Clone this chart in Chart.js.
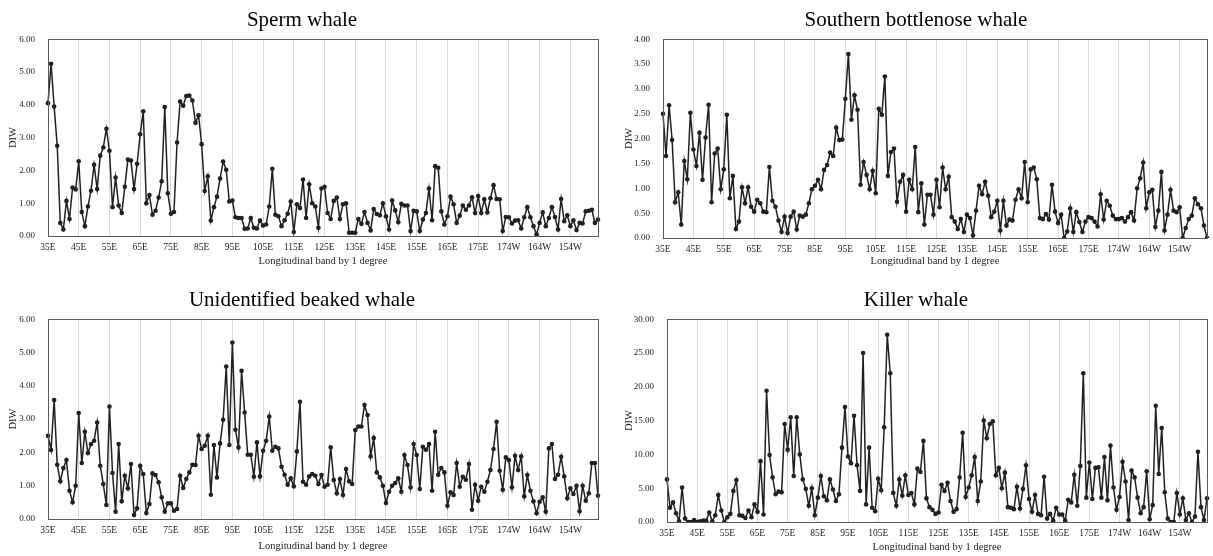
<!DOCTYPE html>
<html>
<head>
<meta charset="utf-8">
<script src="https://cdn.jsdelivr.net/npm/chart.js@4"></script>
<style>
  html, body { margin: 0; padding: 0; background: #fff; }
  body { width: 1213px; height: 556px; position: relative; overflow: hidden; }
  canvas { position: absolute; }
</style>
</head>
<body>
<canvas id="spermChart"></canvas>
<canvas id="bottlenoseChart"></canvas>
<canvas id="beakedChart"></canvas>
<canvas id="killerChart"></canvas>
<script>
// Longitudinal bands of 1 degree, starting at 35E (180 bands)
const tickLabels = ['35E', '45E', '55E', '65E', '75E', '85E', '95E', '105E', '115E', '125E',
  '135E', '145E', '155E', '165E', '175E', '174W', '164W', '154W'];

const spermWhale = [
  4.05, 5.25, 3.95, 2.75, 0.40, 0.20, 1.07, 0.52, 1.48, 1.42,
  2.28, 0.73, 0.30, 0.90, 1.38, 2.17, 1.43, 2.45, 2.70, 3.27,
  2.60, 0.88, 1.78, 0.93, 0.70, 1.50, 2.33, 2.30, 1.43, 2.20,
  3.10, 3.80, 1.00, 1.25, 0.65, 0.77, 1.17, 1.67, 3.93, 1.30,
  0.68, 0.73, 2.85, 4.10, 3.97, 4.27, 4.28, 4.13, 3.45, 3.68,
  2.80, 1.37, 1.82, 0.47, 0.88, 1.20, 1.75, 2.27, 2.02, 1.05,
  1.08, 0.57, 0.55, 0.55, 0.22, 0.23, 0.55, 0.25, 0.23, 0.47,
  0.32, 0.35, 0.90, 2.05, 0.65, 0.60, 0.30, 0.48, 0.68, 1.05,
  0.12, 0.97, 0.85, 1.72, 0.55, 1.58, 1.00, 0.90, 0.25, 1.45,
  1.50, 0.70, 0.52, 1.07, 1.17, 0.52, 0.97, 1.00, 0.10, 0.10,
  0.10, 0.52, 0.37, 0.73, 0.40, 0.17, 0.82, 0.67, 0.63, 1.00,
  0.60, 0.20, 1.08, 0.78, 0.42, 0.98, 0.93, 0.93, 0.15, 0.77,
  0.75, 0.15, 0.50, 0.70, 1.45, 0.48, 2.13, 2.08, 0.75, 0.35,
  0.60, 1.20, 0.97, 0.40, 0.62, 0.93, 0.80, 0.93, 1.18, 0.70,
  1.22, 0.70, 1.12, 0.72, 1.15, 1.55, 1.13, 1.12, 0.15, 0.58,
  0.57, 0.38, 0.47, 0.48, 0.23, 0.57, 0.88, 0.57, 0.30, 0.05,
  0.40, 0.72, 0.30, 0.55, 0.88, 0.58, 0.20, 1.13, 0.45, 0.63,
  0.30, 0.48, 0.18, 0.40, 0.38, 0.75, 0.77, 0.80, 0.40, 0.50
];

const bottlenoseWhale = [
  2.50, 1.65, 2.67, 1.97, 0.72, 0.92, 0.27, 1.55, 1.18, 2.52,
  1.78, 1.45, 2.12, 1.17, 2.02, 2.68, 0.72, 1.70, 1.80, 0.98,
  1.38, 2.48, 0.80, 1.25, 0.18, 0.33, 1.02, 0.70, 1.02, 0.63,
  0.53, 0.77, 0.70, 0.53, 0.52, 1.43, 0.75, 0.63, 0.35, 0.12,
  0.43, 0.10, 0.43, 0.53, 0.17, 0.45, 0.43, 0.47, 0.70, 0.98,
  1.05, 1.17, 0.98, 1.37, 1.47, 1.72, 1.65, 2.22, 1.97, 1.98,
  2.80, 3.70, 2.38, 2.87, 2.58, 1.07, 1.53, 1.27, 0.98, 1.35,
  0.90, 2.60, 2.48, 3.25, 1.25, 1.73, 1.80, 0.73, 1.13, 1.27,
  0.53, 1.17, 0.98, 1.83, 0.52, 1.10, 0.27, 0.87, 0.87, 0.47,
  1.17, 0.62, 1.42, 0.98, 1.23, 0.42, 0.33, 0.18, 0.38, 0.12,
  0.47, 0.40, 0.05, 0.55, 1.05, 0.88, 1.13, 0.85, 0.42, 0.53,
  0.75, 0.15, 0.75, 0.25, 0.37, 0.35, 0.77, 0.98, 0.80, 1.53,
  0.72, 1.38, 1.42, 1.18, 0.40, 0.38, 0.48, 0.37, 1.07, 0.53,
  0.30, 0.47, 0.00, 0.13, 0.60, 0.12, 0.52, 0.32, 0.12, 0.33,
  0.42, 0.40, 0.33, 0.23, 0.88, 0.37, 0.75, 0.65, 0.45, 0.38,
  0.38, 0.40, 0.33, 0.42, 0.52, 0.35, 1.00, 1.20, 1.52, 0.60,
  0.92, 0.97, 0.22, 0.55, 1.33, 0.15, 0.47, 0.97, 0.55, 0.52,
  0.62, 0.00, 0.20, 0.38, 0.45, 0.80, 0.68, 0.60, 0.25, 0.00
];

const beakedWhale = [
  2.50, 2.07, 3.57, 1.63, 1.13, 1.53, 1.77, 0.85, 0.50, 1.00,
  3.18, 1.68, 2.62, 1.98, 2.25, 2.35, 2.90, 1.60, 1.05, 0.42,
  3.38, 1.38, 0.22, 2.25, 0.53, 1.30, 0.92, 1.65, 0.12, 0.32,
  1.60, 1.35, 0.18, 0.45, 1.37, 1.32, 1.10, 0.65, 0.22, 0.47,
  0.47, 0.25, 0.30, 1.30, 0.93, 1.20, 1.40, 1.63, 1.62, 2.50,
  2.10, 2.20, 2.50, 0.73, 2.22, 1.25, 2.27, 2.98, 4.58, 2.22,
  5.30, 2.68, 2.15, 4.45, 3.20, 1.93, 1.93, 1.27, 2.30, 1.28,
  2.05, 2.35, 3.08, 2.05, 2.17, 2.12, 1.57, 1.33, 1.03, 1.22,
  0.98, 2.03, 3.52, 1.12, 1.03, 1.28, 1.35, 1.30, 1.05, 1.32,
  0.97, 1.03, 2.15, 1.17, 0.77, 1.20, 0.72, 1.50, 1.13, 1.05,
  2.67, 2.78, 2.78, 3.42, 3.12, 1.88, 2.43, 1.40, 1.25, 1.00,
  0.48, 0.82, 1.00, 1.08, 1.22, 0.82, 1.92, 1.62, 0.95, 2.25,
  1.92, 0.90, 2.17, 2.08, 2.25, 0.85, 2.62, 1.33, 1.53, 1.40,
  0.40, 0.80, 0.72, 1.68, 0.97, 1.27, 1.18, 1.65, 0.28, 1.03,
  0.55, 0.97, 0.82, 1.12, 1.47, 2.10, 2.92, 1.45, 0.88, 1.85,
  1.77, 0.95, 1.90, 1.47, 1.88, 0.68, 1.32, 0.85, 0.53, 0.17,
  0.52, 0.65, 0.22, 2.12, 2.25, 1.20, 1.33, 1.87, 1.28, 0.62,
  0.92, 0.75, 1.00, 0.23, 1.00, 0.55, 0.77, 1.68, 1.68, 0.70
];

const killerWhale = [
  6.3, 2.1, 2.9, 1.3, 0.1, 5.1, 0.5, 0.0, 0.0, 0.3,
  0.0, 0.1, 0.2, 0.2, 1.4, 0.1, 1.0, 4.0, 1.7, 0.0,
  0.7, 1.2, 4.6, 6.2, 1.0, 0.9, 0.6, 1.7, 0.7, 2.6,
  1.5, 9.0, 1.1, 19.4, 9.9, 6.6, 4.1, 4.5, 4.4, 14.5,
  10.7, 15.5, 6.8, 15.5, 10.0, 6.3, 4.9, 2.4, 5.0, 1.0,
  3.6, 6.8, 3.8, 3.2, 6.3, 4.8, 3.1, 4.1, 11.0, 17.0,
  9.7, 8.7, 15.7, 8.4, 4.6, 25.0, 2.6, 11.0, 2.1, 1.6,
  6.4, 4.7, 14.0, 27.7, 22.0, 4.3, 2.4, 6.3, 3.9, 6.9,
  4.0, 4.3, 2.6, 7.9, 7.4, 12.0, 3.5, 2.2, 1.8, 1.2,
  1.4, 5.5, 4.6, 5.8, 3.1, 1.5, 1.9, 6.6, 13.2, 3.7,
  5.1, 6.9, 9.6, 3.1, 6.0, 15.0, 12.4, 14.5, 14.9, 6.9,
  8.0, 5.0, 7.3, 2.2, 2.1, 1.9, 5.2, 2.0, 4.9, 8.4,
  3.4, 1.5, 4.0, 1.2, 1.0, 6.7, 0.5, 1.2, 0.2, 2.1,
  1.1, 1.1, 0.2, 3.3, 2.9, 7.0, 2.4, 8.3, 22.0, 3.6,
  8.8, 3.4, 8.0, 8.1, 3.6, 9.6, 3.2, 11.3, 5.1, 1.8,
  3.7, 8.9, 6.0, 0.3, 7.6, 6.6, 3.6, 1.3, 2.2, 7.5,
  0.4, 2.5, 17.2, 7.1, 13.9, 4.4, 0.5, 0.0, 0.0, 4.3,
  1.1, 3.5, 0.3, 1.3, 0.0, 0.8, 10.4, 2.2, 0.3, 3.5
];

// one category per 1-degree band, a label every 10 bands
const bandLabels = spermWhale.map(function (v, i) {
  return i % 10 === 0 ? tickLabels[i / 10] : '';
});

const serif = "'Liberation Serif', 'Times New Roman', serif";
const inkColor = '#231f20';

const plotFrame = {
  id: 'plotFrame',
  afterDraw(chart) {
    const a = chart.chartArea;
    const ctx = chart.ctx;
    ctx.save();
    ctx.strokeStyle = '#595959';
    ctx.lineWidth = 1;
    ctx.strokeRect(Math.round(a.left) + 0.5, Math.round(a.top) + 0.5,
      Math.round(a.right - a.left), Math.round(a.bottom - a.top));
    ctx.restore();
  }
};

function makeChart(id, box, title, values, yMax, yStep) {
  const canvas = document.getElementById(id);
  canvas.style.left = box.left + 'px';
  canvas.style.top = box.top + 'px';
  canvas.width = box.width;
  canvas.height = box.height;

  return new Chart(canvas.getContext('2d'), {
    type: 'line',
    plugins: [plotFrame],
    data: {
      labels: bandLabels,
      datasets: [{
        data: values,
        borderColor: inkColor,
        backgroundColor: inkColor,
        borderWidth: 1.5,
        pointRadius: 2.3,
        pointBorderWidth: 0,
        pointBackgroundColor: inkColor,
        tension: 0
      }]
    },
    options: {
      responsive: false,
      animation: false,
      devicePixelRatio: 1,
      layout: { padding: { left: box.padLeft, right: box.padRight, top: 0, bottom: 0 } },
      plugins: {
        legend: { display: false },
        tooltip: { enabled: false },
        title: {
          display: true,
          text: title,
          color: '#000',
          font: { family: serif, size: 21, weight: 'normal' },
          padding: { top: 8, bottom: 6 }
        }
      },
      scales: {
        x: {
          type: 'category',
          offset: false,
          afterFit(scale) { scale.height = box.xAxisHeight; },
          grid: {
            drawTicks: false,
            color(ctx) { return ctx.index % 10 === 0 ? '#d9d9d9' : 'rgba(0,0,0,0)'; },
            lineWidth: 1
          },
          border: { display: false },
          ticks: {
            autoSkip: false,
            maxRotation: 0,
            minRotation: 0,
            padding: 6,
            color: '#222',
            font: { family: serif, size: 9.5 }
          },
          title: {
            display: true,
            text: 'Longitudinal band by 1 degree',
            color: '#222',
            font: { family: serif, size: 10.5 },
            padding: { top: 0, bottom: 2 }
          }
        },
        y: {
          min: 0,
          max: yMax,
          afterFit(scale) { scale.width = box.yAxisWidth; },
          grid: { display: false },
          border: { display: false },
          ticks: {
            stepSize: yStep,
            padding: 5,
            color: '#222',
            font: { family: serif, size: 9 },
            callback(value) { return Number(value).toFixed(2); }
          },
          title: {
            display: true,
            text: 'DIW',
            color: '#222',
            font: { family: serif, size: 10.5 },
            padding: { top: box.yTitlePad, bottom: 0 }
          }
        }
      }
    }
  });
}

makeChart('spermChart',
  { left: 0, top: 0, width: 605, height: 270, padLeft: 6, padRight: 7, yAxisWidth: 42, xAxisHeight: 34, yTitlePad: 1 },
  'Sperm whale', spermWhale, 6, 1);
makeChart('bottlenoseChart',
  { left: 605, top: 0, width: 608, height: 270, padLeft: 16, padRight: 2, yAxisWidth: 42, xAxisHeight: 32, yTitlePad: 2 },
  'Southern bottlenose whale', bottlenoseWhale, 4, 0.5);
makeChart('beakedChart',
  { left: 0, top: 280, width: 605, height: 275, padLeft: 6, padRight: 7, yAxisWidth: 42, xAxisHeight: 36, yTitlePad: 1 },
  'Unidentified beaked whale', beakedWhale, 6, 1);
makeChart('killerChart',
  { left: 605, top: 280, width: 608, height: 276, padLeft: 16, padRight: 2, yAxisWidth: 46, xAxisHeight: 34, yTitlePad: 2 },
  'Killer whale', killerWhale, 30, 5);
</script>
</body>
</html>
